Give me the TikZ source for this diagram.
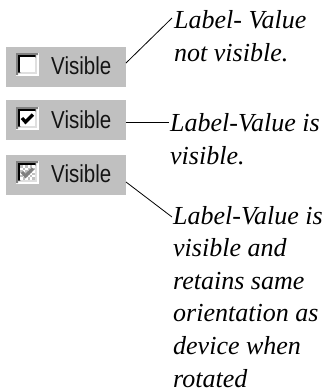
\documentclass[tikz,border=0pt]{standalone}
\usepackage{graphicx}
\usepackage{fontspec}
\setmainfont{Liberation Serif}
\newfontfamily\uifont{Liberation Sans}
\definecolor{wingray}{RGB}{192,192,192}
\definecolor{windark}{RGB}{128,128,128}
\definecolor{winlight}{RGB}{223,223,223}
\definecolor{uitext}{RGB}{20,20,20}
\begin{document}
\begin{tikzpicture}[x=1pt,y=-1pt,
  panel/.style={fill=wingray, draw=none, minimum width=120pt, minimum height=40pt,
    inner sep=0pt, outer sep=0pt, anchor=north west},
  uilabel/.style={font=\uifont\fontsize{20.5}{24}\selectfont, text=uitext,
    inner sep=0pt, anchor=base west},
  note/.style={font=\fontsize{26}{32.6}\selectfont\itshape, align=left,
    inner sep=0pt, anchor=base west},
  leader/.style={draw=black, line width=0.8pt},
  tick/.style={line width=3.2pt, line join=miter, line cap=butt},
  pics/cbox/.style={code={
    \fill[white] (0,0) rectangle (23,23);
    \fill[windark] (0,0) -- (22,0) -- (22,2.2) -- (2.2,2.2) -- (2.2,22) -- (0,22) -- cycle;
    \fill[winlight] (2.2,2.2) rectangle (20.8,20.8);
    \fill[black] (2.2,2.2) -- (19.7,2.2) -- (19.7,4.4) -- (4.4,4.4) -- (4.4,19.7) -- (2.2,19.7) -- cycle;
    \fill[white] (4.4,4.4) rectangle (18.6,18.6);
  }},
  pics/cdither/.style={code={
    \foreach \i in {0,...,5}{\foreach \j in {0,...,5}{
      \pgfmathtruncatemacro{\mypar}{mod(\i+\j,2)}
      \ifnum\mypar=0 \fill[wingray] ({4.4+\i*2.37},{4.4+\j*2.37}) rectangle ++(2.37,2.37);\fi
    }}
  }},
  pics/ctick/.style={code={
    \draw[tick,#1] (6,11) -- (9.5,15) -- (17,7.5);
  }}
]
\useasboundingbox (0,0) rectangle (332,392);

\node[panel] (box1) at (6,47) {};
\node[panel] (box2) at (6,100) {};
\node[panel] (box3) at (6,155) {};

\pic at (16,53) {cbox};
\pic at (16,107) {cbox};
\pic at (16,107) {ctick=black};
\pic at (16,161) {cbox};
\pic at (16,161) {cdither};
\pic at (16,161) {ctick=windark};

\node[uilabel] (v1) at (51,74) {\scalebox{1}[1.2]{Visible}};
\node[uilabel] (v2) at (51,128) {\scalebox{1}[1.2]{Visible}};
\node[uilabel] (v3) at (51,182) {\scalebox{1}[1.2]{Visible}};

% base anchor of a multi-line node = baseline of its last line
\node[note] (lab1) at (174,61) {Label- Value\\not visible.};
\node[note] (lab2) at (170,164) {Label-Value is\\visible.};
\node[note] (lab3) at (173,387) {Label-Value is\\visible and\\retains same\\orientation as\\device when\\rotated};

\coordinate (e1) at (172,18);
\coordinate (e2) at (169,122);
\coordinate (e3) at (172,217);

\draw[leader] ([yshift=4pt]box1.east) -- (e1);
\draw[leader] ([yshift=-2pt]box2.east) -- (e2);
\draw[leader] ([yshift=-7pt]box3.east) -- (e3);
\end{tikzpicture}
\end{document}
